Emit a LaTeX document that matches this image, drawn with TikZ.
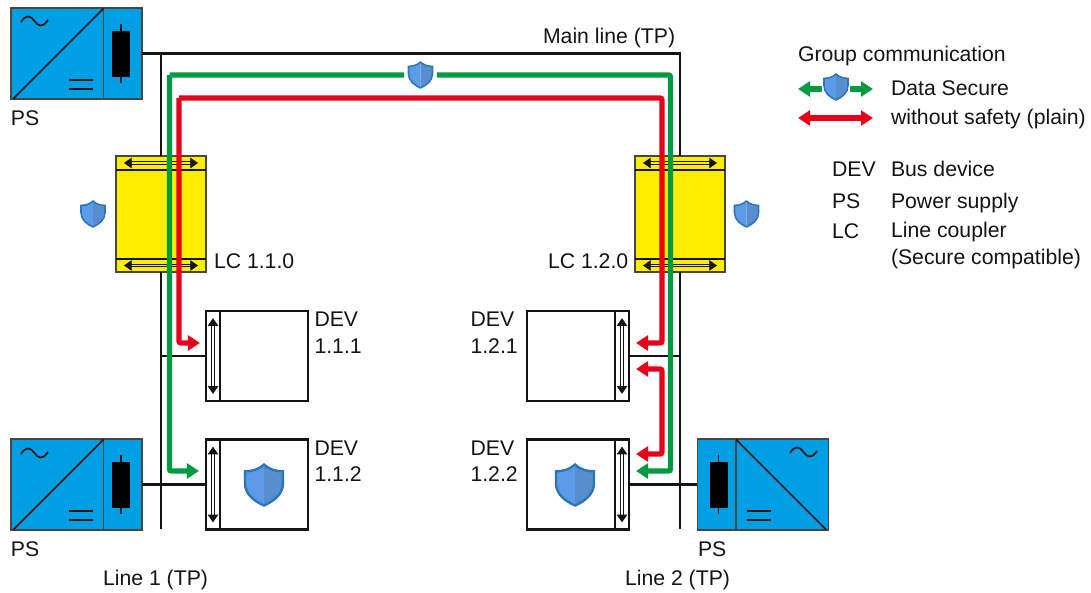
\documentclass[tikz,border=0pt]{standalone}
\usepackage{fontspec}
\setmainfont{Liberation Sans}
\usepackage{tikz}
\usetikzlibrary{
    arrows.meta,
    calc
}
\definecolor{ink}{RGB}{20,20,20}
\definecolor{edgegrey}{RGB}{70,70,70}
\definecolor{psblue}{RGB}{0,159,227}
\definecolor{lcyellow}{RGB}{255,237,0}
\definecolor{securegreen}{RGB}{0,155,65}
\definecolor{plainred}{RGB}{230,0,25}
\definecolor{shieldlight}{RGB}{92,155,232}
\definecolor{shielddark}{RGB}{88,142,208}
\definecolor{shieldedge}{RGB}{46,117,182}
\tikzset{
    line join=round,
    every node/.style={font=\fontsize{15.1}{18.5}\selectfont, text=ink, inner sep=0pt, outer sep=0pt},
    label/.style={anchor=base west, align=left},
    psbox/.style={
        rectangle,
        draw=edgegrey,
        fill=psblue,
        line width=1.2pt,
        minimum width=3.275cm,
        minimum height=2.275cm
    },
    lcbox/.style={
        rectangle,
        draw=edgegrey,
        fill=lcyellow,
        line width=1.2pt,
        minimum width=2.25cm,
        minimum height=2.9cm
    },
    lcband/.style={
        rectangle,
        draw=edgegrey,
        fill=lcyellow,
        line width=1.2pt,
        minimum width=2.25cm,
        minimum height=0.34cm
    },
    devbox/.style={
        rectangle,
        draw=ink,
        fill=white,
        line width=1.6pt,
        minimum width=2.55cm,
        minimum height=2.25cm
    },
    devport/.style={
        devbox,
        minimum width=0.35cm
    },
    gap/.style={
        rectangle,
        fill=white,
        minimum width=0.825cm,
        minimum height=0.6cm
    },
    busline/.style={
        draw=ink,
        line width=1.5pt
    },
    portarrow/.style={
        <->,
        >={Triangle[length=0.19cm,width=0.26cm]},
        draw=ink,
        line width=0.45pt,
        double distance=1.3pt
    },
    secureflow/.style={
        draw=securegreen,
        line width=3.8pt,
        rounded corners=1.5pt,
        >={Triangle[length=0.3cm,width=0.37cm]}
    },
    plainflow/.style={
        draw=plainred,
        line width=3.8pt,
        rounded corners=1.5pt,
        >={Triangle[length=0.3cm,width=0.37cm]}
    },
    guardsmall/.style={scale=12, line width=1.1pt},
    guardbig/.style={scale=19, line width=1.7pt},
    pics/shield/.style={
        code={
            \path[fill=shieldlight] (0,-1.08) .. controls (-0.3,-0.8) and (-0.65,-0.72) .. (-1,-0.72)
                -- (-1,-0.1) .. controls (-1,0.5) and (-0.5,0.85) .. (0,1.08) -- cycle;
            \path[fill=shielddark] (0,-1.08) .. controls (0.3,-0.8) and (0.65,-0.72) .. (1,-0.72)
                -- (1,-0.1) .. controls (1,0.5) and (0.5,0.85) .. (0,1.08) -- cycle;
            \draw[shieldedge] (0,-1.08) .. controls (0.3,-0.8) and (0.65,-0.72) .. (1,-0.72)
                -- (1,-0.1) .. controls (1,0.5) and (0.5,0.85) .. (0,1.08)
                .. controls (-0.5,0.85) and (-1,0.5) .. (-1,-0.1)
                -- (-1,-0.72) .. controls (-0.65,-0.72) and (-0.3,-0.8) .. (0,-1.08) -- cycle;
        }
    },
    pics/converter/.style={
        code={
            \draw[edgegrey, line width=1.2pt] (27,-45.5) -- (27,45.5);
            \draw[ink, line width=1.1pt] (-63,45) -- (27,-45);
            \draw[ink, line width=1.3pt] (-7.5,26.5) -- (16.5,26.5);
            \draw[ink, line width=1.3pt] (-7.5,35.5) -- (16.5,35.5);
            \draw[ink, line width=1.3pt] (44.5,-29.5) -- (44.5,29.5);
            \path[fill=black] (35.5,-22.5) rectangle (53.5,23.5);
        }
    },
    pics/mains/.style={
        code={
            \draw[ink, line width=1.2pt] (-13.5,1) .. controls (-8,-7.5) and (-3.5,-5) .. (0,0)
                .. controls (3.5,5) and (8,7.5) .. (13.5,-1);
        }
    }
}
\begin{document}
\begin{tikzpicture}[x=0.025cm, y=-0.025cm]
\useasboundingbox (0,0) rectangle (1091,592);

% Power supplies
\node[psbox] (ps1) at (76.5,53.5) {};
\node[psbox] (ps2) at (76.5,484.5) {};
\node[psbox] (ps3) at (763,484.5) {};
\pic at (76.5,53.5) {converter};
\pic at (76.5,484.5) {converter};
\pic[xscale=-1] at (763,484.5) {converter};
\pic at (34.5,21) {mains};
\pic at (34.5,453) {mains};
\pic at (803.5,452) {mains};

% Line couplers
\node[lcbox] (lc1) at (161,214) {};
\node[lcbox] (lc2) at (680,214) {};
\node[lcband] (lc1top) at (161,163) {};
\node[lcband] (lc1low) at (161,265.5) {};
\node[lcband] (lc2top) at (680,163) {};
\node[lcband] (lc2low) at (680,265.5) {};
\draw[busline] (lc1top.south west) -- (lc1top.south east);
\draw[busline] (lc1low.north west) -- (lc1low.north east);
\draw[busline] (lc2top.south west) -- (lc2top.south east);
\draw[busline] (lc2low.north west) -- (lc2low.north east);

% Bus devices
\node[devbox] (dev111) at (257,356) {};
\node[devbox] (dev112) at (257,484.5) {};
\node[devbox] (dev121) at (578,356) {};
\node[devbox] (dev122) at (578,484.5) {};
\node[devport] (port111) at (213,356) {};
\node[devport] (port112) at (213,484.5) {};
\node[devport] (port121) at (622,356) {};
\node[devport] (port122) at (622,484.5) {};

% Twisted pair lines
\coordinate (end1) at (161,529);
\coordinate (end2) at (680,529);
\draw[busline] (ps1.east) -| (lc2top.north);
\draw[busline] (lc1top.north |- ps1.east) -- (lc1top.north);
\draw[busline] (lc1low.south) -- (end1);
\draw[busline] (lc2low.south) -- (end2);
\draw[busline] (end1 |- port111.west) -- (port111.west);
\draw[busline] (end2 |- port121.east) -- (port121.east);
\draw[busline] (ps2.east) -- (port112.west);
\draw[busline] (ps3.west) -- (port122.east);

% Coupler and device port arrows
\draw[portarrow, double=lcyellow] ([xshift=0.2cm]lc1top.west) -- ([xshift=-0.2cm]lc1top.east);
\draw[portarrow, double=lcyellow] ([xshift=0.2cm]lc1low.west) -- ([xshift=-0.2cm]lc1low.east);
\draw[portarrow, double=lcyellow] ([xshift=0.2cm]lc2top.west) -- ([xshift=-0.2cm]lc2top.east);
\draw[portarrow, double=lcyellow] ([xshift=0.2cm]lc2low.west) -- ([xshift=-0.2cm]lc2low.east);
\draw[portarrow] ([yshift=-0.18cm]port111.north) -- ([yshift=0.18cm]port111.south);
\draw[portarrow] ([yshift=-0.18cm]port112.north) -- ([yshift=0.18cm]port112.south);
\draw[portarrow] ([yshift=-0.18cm]port121.north) -- ([yshift=0.18cm]port121.south);
\draw[portarrow] ([yshift=-0.18cm]port122.north) -- ([yshift=0.18cm]port122.south);

% Group communication paths
\coordinate (secin112) at (199,471);
\coordinate (secin122) at (636,471);
\coordinate (secleft) at (169.5,75);
\coordinate (secright) at (670.5,75);
\coordinate (plainin111) at (200,343);
\coordinate (plainin121) at (636,343);
\coordinate (plainleft) at (179,98);
\coordinate (plainright) at (662,98);
\coordinate (plainup) at (636,369);
\coordinate (plaindown) at (636,454);
\coordinate (plainmid) at (662,411);
\draw[secureflow, ->] (secleft) |- (secin112);
\draw[secureflow, ->] (secleft) -- (secright) |- (secin122);
\draw[plainflow, ->] (plainleft) |- (plainin111);
\draw[plainflow, ->] (plainleft) -- (plainright) |- (plainin121);
\draw[plainflow, <->] (plainup) -| (plainmid) |- (plaindown);

% Secure markers
\node[gap] (topguard) at (420.5,75) {};
\pic[guardsmall] at (420.5,75) {shield};
\pic[guardsmall] at (93,214) {shield};
\pic[guardsmall] at (746.5,214) {shield};
\pic[guardbig] at (264,485) {shield};
\pic[guardbig] at (575,485) {shield};

% Labels
\node[label] (mainlabel) at (543,43.5) {Main line (TP)};
\node[label] (pslabel1) at (11,125) {PS};
\node[label] (pslabel2) at (11,556) {PS};
\node[label] (pslabel3) at (698,556) {PS};
\node[label] (linelabel1) at (103,585) {Line 1 (TP)};
\node[label] (linelabel2) at (625,585) {Line 2 (TP)};
\node[label] (lclabel1) at (214,268) {LC 1.1.0};
\node[label] (lclabel2) at (548,268) {LC 1.2.0};
\node[label] (devlabel111) at (314.5,353) {DEV\\1.1.1};
\node[label] (devlabel112) at (314.5,481.5) {DEV\\1.1.2};
\node[label] (devlabel121) at (470.5,353) {DEV\\1.2.1};
\node[label] (devlabel122) at (470.5,481.5) {DEV\\1.2.2};

% Legend
\node[label] (legendtitle) at (798,61) {Group communication};
\node[gap, minimum width=0.7cm] (legendguard) at (836,89) {};
\pic[guardsmall] at (836,87) {shield};
\coordinate (legendleft) at (798,89);
\coordinate (legendright) at (873,89);
\draw[secureflow, ->] (legendguard.west) -- (legendleft);
\draw[secureflow, ->] (legendguard.east) -- (legendright);
\coordinate (plainfrom) at (798,118);
\coordinate (plainto) at (873,118);
\draw[plainflow, <->] (plainfrom) -- (plainto);
\node[label] (legendsecure) at (891,95) {Data Secure};
\node[label] (legendplain) at (891,124.5) {without safety (plain)};
\node[label] (keydev) at (832,176) {DEV};
\node[label] (keyps) at (832,208) {PS};
\node[label] (keylc) at (832,238) {LC};
\node[label] (textdev) at (891,176) {Bus device};
\node[label] (textps) at (891,208) {Power supply};
\node[label] (textlc) at (891,264) {Line coupler\\(Secure compatible)};

\end{tikzpicture}
\end{document}
